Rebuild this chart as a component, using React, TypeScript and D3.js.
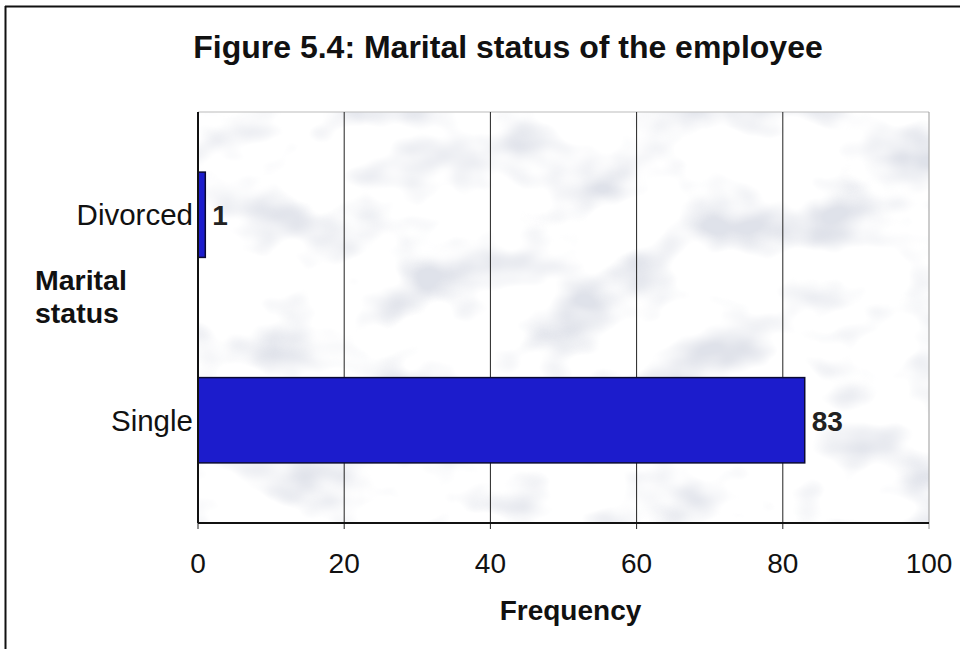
import React from "react";
import * as d3 from "d3";

const categories = ["Divorced", "Single"];
const values = [1, 83];
const xTicks = [0, 20, 40, 60, 80, 100];

const W = 960;
const H = 649;
const FONT = "Liberation Sans, Arial, sans-serif";

export default function App() {
  const left = 198;
  const right = 929;
  const top = 112;
  const bottom = 523;

  const x = d3.scaleLinear().domain([0, 100]).range([left, right]);
  const y = d3
    .scaleBand<string>()
    .domain(categories)
    .range([top, bottom])
    .paddingInner(0.585)
    .paddingOuter(0.2925);

  return (
    <svg
      width={W}
      height={H}
      style={{ position: "absolute", left: 0, top: 0, background: "#fff" }}
      fontFamily={FONT}
    >
      <defs>
        <filter id="tex" x="0" y="0" width="100%" height="100%">
          <feTurbulence type="fractalNoise" baseFrequency="0.011 0.016" numOctaves="3" seed="11" />
          <feColorMatrix
            type="matrix"
            values="0 0 0 0 0.74  0 0 0 0 0.76  0 0 0 0 0.82  3.2 0 0 0 -1.5"
          />
        </filter>
        <clipPath id="plotclip">
          <rect x={left} y={top} width={right - left} height={bottom - top} />
        </clipPath>
      </defs>
      {/* outer border */}
      <line x1={5.5} y1={6} x2={5.5} y2={H} stroke="#111" strokeWidth={2} />
      <line x1={5} y1={6.5} x2={W} y2={6.5} stroke="#111" strokeWidth={2} />

      {/* title */}
      <text x={508} y={58} textAnchor="middle" fontWeight="bold" fontSize={32} fill="#111">
        Figure 5.4: Marital status of the employee
      </text>

      {/* plot background texture */}
      <rect x={left} y={top} width={right - left} height={bottom - top} fill="#fff" />
      <rect
        x={left}
        y={top}
        width={right - left}
        height={bottom - top}
        filter="url(#tex)"
        clipPath="url(#plotclip)"
      />
      <line x1={left} x2={right} y1={top} y2={top} stroke="#bbb" strokeWidth={1} />

      {/* gridlines */}
      {xTicks.map((t) => (
        <line
          key={"g" + t}
          x1={x(t)}
          x2={x(t)}
          y1={top}
          y2={bottom + 6}
          stroke={t === 100 ? "#999" : "#222"}
          strokeWidth={1}
        />
      ))}

      {/* bars */}
      {categories.map((c, i) => (
        <g key={c}>
          <rect
            x={x(0)}
            y={y(c)!}
            width={x(values[i]) - x(0)}
            height={y.bandwidth()}
            fill="#1c1ccc"
            stroke="#0a0a33"
            strokeWidth={1.5}
          />
          <text
            x={x(values[i]) + 7}
            y={y(c)! + y.bandwidth() / 2}
            dy="0.38em"
            fontSize={28}
            fontWeight="bold"
            fill="#222"
          >
            {values[i]}
          </text>
          <text
            x={left - 5}
            y={y(c)! + y.bandwidth() / 2}
            dy="0.36em"
            textAnchor="end"
            fontSize={29.5}
            fill="#111"
          >
            {c}
          </text>
        </g>
      ))}

      {/* axes */}
      <line x1={left} x2={left} y1={top} y2={bottom} stroke="#111" strokeWidth={2} />
      <line x1={left} x2={right} y1={bottom} y2={bottom} stroke="#111" strokeWidth={2} />

      {/* x tick labels */}
      {xTicks.map((t) => (
        <text key={"t" + t} x={x(t)} y={573} textAnchor="middle" fontSize={28} fill="#111">
          {t}
        </text>
      ))}

      {/* axis titles */}
      <text
        x={(left + right) / 2 + 7}
        y={620}
        textAnchor="middle"
        fontSize={28}
        fontWeight="bold"
        fill="#111"
      >
        Frequency
      </text>
      <text fontSize={28.5} fontWeight="bold" fill="#111">
        <tspan x={35} y={290}>Marital</tspan>
        <tspan x={35} y={323}>status</tspan>
      </text>
    </svg>
  );
}
